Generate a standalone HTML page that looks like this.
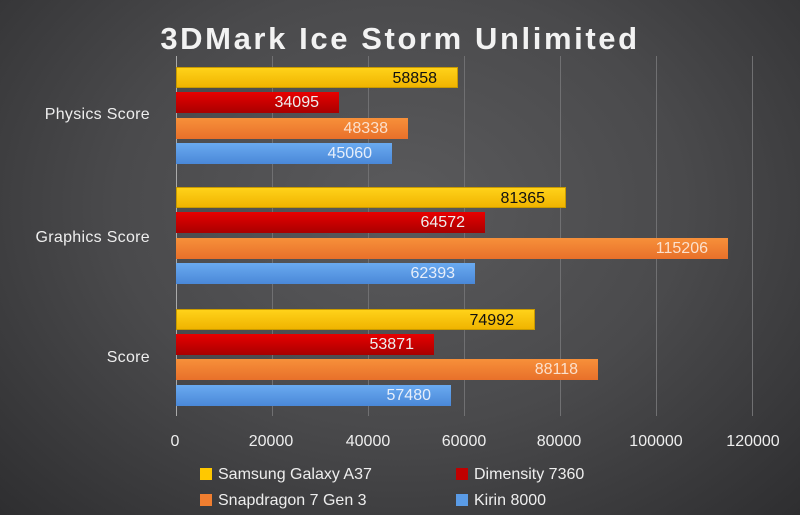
<!DOCTYPE html>
<html><head><meta charset="utf-8"><style>
html,body{margin:0;padding:0}
body{width:800px;height:515px;overflow:hidden;background:radial-gradient(ellipse at 50% 40%,#5a5a5c 0%,#4a4a4c 50%,#2e2e30 100%);font-family:"Liberation Sans",sans-serif;position:relative}
.t{position:absolute;left:0;width:800px;top:21px;text-align:center;color:#f2f2f2;font-weight:bold;font-size:31px;letter-spacing:2.6px}
.g{position:absolute;top:56px;height:360px;width:1px;background:#707072}
.bar{position:absolute;left:176px;height:21px;box-sizing:border-box;font-size:16px;text-align:right;line-height:21px;padding-right:20px;color:#eee}
.y{background:linear-gradient(#ffd21a,#f0b400);color:#111;border:1px solid #c99a00}
.r{background:linear-gradient(#e80000,#a80000)}
.o{background:linear-gradient(#f7903a,#e8702a);color:#fbe0cc}
.b{background:linear-gradient(#6aaaf0,#4a88d8);color:#e6eefa}
.c{position:absolute;right:650px;color:#eee;font-size:16px;text-align:right;white-space:nowrap;letter-spacing:0.3px}
.x{position:absolute;top:433px;color:#eee;font-size:16px;width:80px;margin-left:-40px;text-align:center}
.l{position:absolute;color:#eee;font-size:16px}
.l i{display:inline-block;width:12px;height:12px;margin-right:6px;vertical-align:-1px}
</style></head><body>
<div class="t">3DMark Ice Storm Unlimited</div>
<div class="g" style="left:176px;background:#aaa"></div>
<div class="g" style="left:272px"></div><div class="g" style="left:368px"></div><div class="g" style="left:464px"></div><div class="g" style="left:560px"></div><div class="g" style="left:656px"></div><div class="g" style="left:752px"></div>

<div class="bar y" style="top:67px;width:282px">58858</div>
<div class="bar r" style="top:92px;width:163px">34095</div>
<div class="bar o" style="top:118px;width:232px">48338</div>
<div class="bar b" style="top:143px;width:216px">45060</div>

<div class="bar y" style="top:187px;width:390px">81365</div>
<div class="bar r" style="top:212px;width:309px">64572</div>
<div class="bar o" style="top:238px;width:552px">115206</div>
<div class="bar b" style="top:263px;width:299px">62393</div>

<div class="bar y" style="top:309px;width:359px">74992</div>
<div class="bar r" style="top:334px;width:258px">53871</div>
<div class="bar o" style="top:359px;width:422px">88118</div>
<div class="bar b" style="top:385px;width:275px">57480</div>

<div class="c" style="top:106px">Physics Score</div>
<div class="c" style="top:229px">Graphics Score</div>
<div class="c" style="top:349px">Score</div>

<div class="x" style="left:175px">0</div>
<div class="x" style="left:271px">20000</div>
<div class="x" style="left:368px">40000</div>
<div class="x" style="left:464px">60000</div>
<div class="x" style="left:559px">80000</div>
<div class="x" style="left:656px">100000</div>
<div class="x" style="left:753px">120000</div>

<div class="l" style="left:200px;top:466px"><i style="background:#ffc800"></i>Samsung Galaxy A37</div>
<div class="l" style="left:456px;top:466px"><i style="background:#c00000"></i>Dimensity 7360</div>
<div class="l" style="left:200px;top:492px"><i style="background:#f07e30"></i>Snapdragon 7 Gen 3</div>
<div class="l" style="left:456px;top:492px"><i style="background:#5a9be6"></i>Kirin 8000</div>
</body></html>
